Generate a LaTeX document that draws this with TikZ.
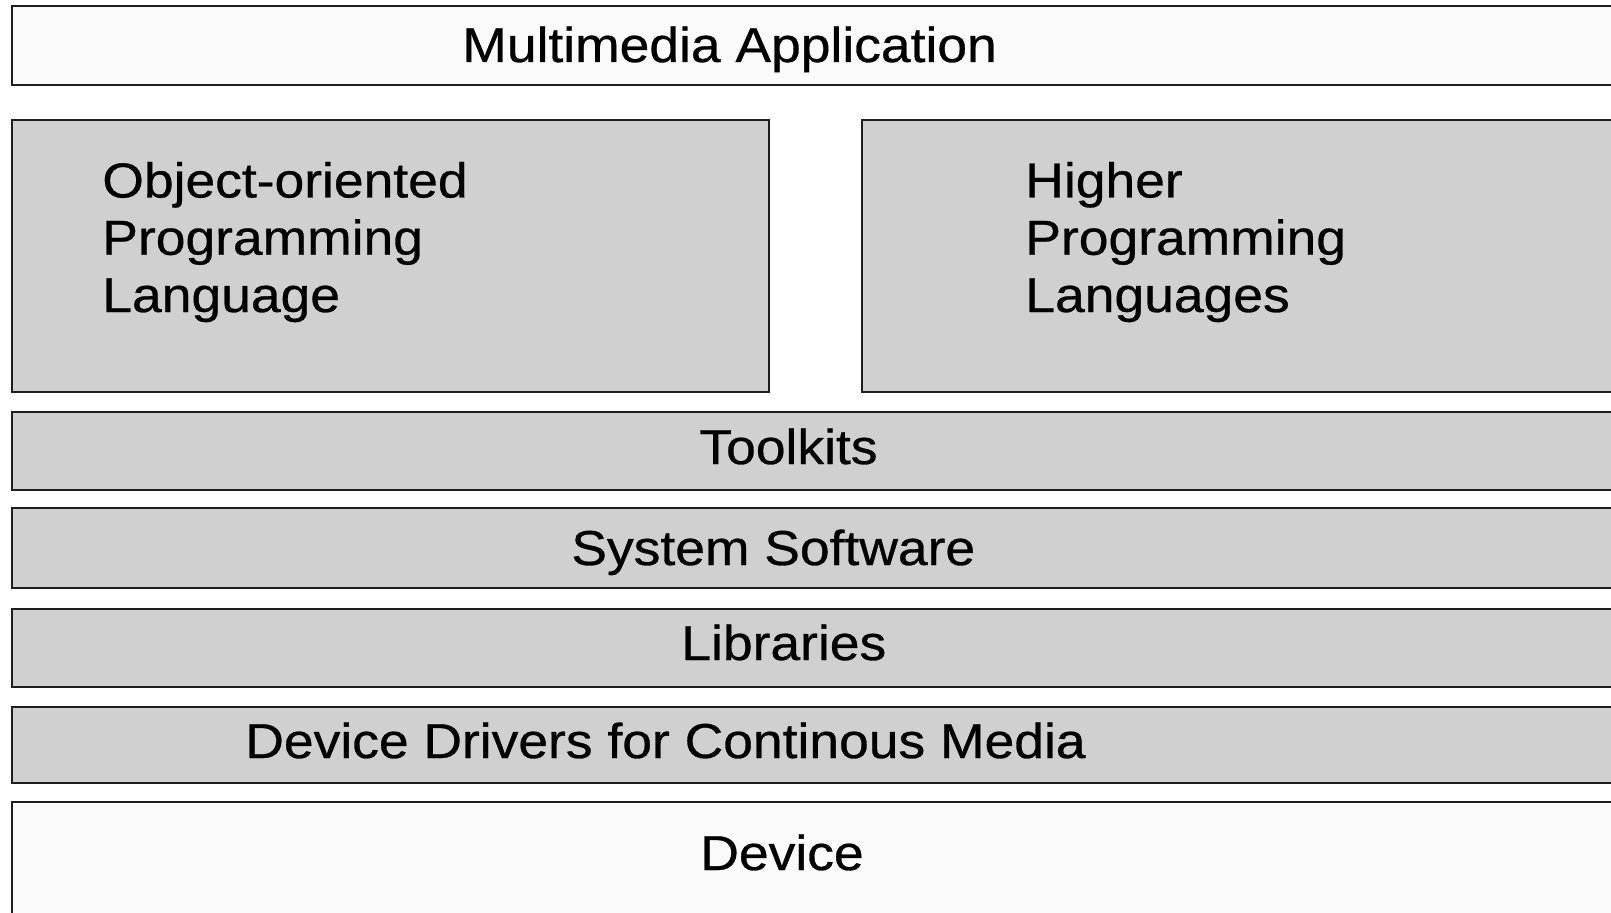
\documentclass[tikz,border=0pt]{standalone}
\usepackage{fontspec}
\setmainfont{Liberation Sans}[FakeStretch=1.09, FakeBold=0.6]
\usepackage{tikz}
\pgfdeclarelayer{nodelayer}
\pgfdeclarelayer{edgelayer}
\pgfsetlayers{edgelayer,nodelayer,main}
\definecolor{layergray}{HTML}{D0D0D0}
\definecolor{layerwhite}{HTML}{FAFAFA}
\definecolor{edgeblack}{HTML}{1E1E1E}
\tikzset{layer/.style={draw=edgeblack, line width=0.052cm, fill=layergray, rectangle, inner sep=0pt}}
\tikzset{outer/.style={layer, fill=layerwhite}}
\tikzset{txt/.style={inner sep=0pt, anchor=base west, align=left, text=black, font=\fontsize{27.9}{32.6}\selectfont}}

\begin{document}
\begin{tikzpicture}[x=0.02cm, y=-0.02cm]
	\useasboundingbox (0, 0) rectangle (1611, 912);
	\clip (0, 0) rectangle (1611, 912);
	\begin{pgfonlayer}{nodelayer}
		\node [style=outer, minimum width=32.56cm, minimum height=1.58cm] (0) at (826, 45.5) {};
		\node [style=layer, minimum width=15.14cm, minimum height=5.44cm] (1) at (390.5, 256) {};
		\node [style=layer, minimum width=15.56cm, minimum height=5.44cm] (2) at (1251, 256) {};
		\node [style=layer, minimum width=32.56cm, minimum height=1.56cm] (3) at (826, 451) {};
		\node [style=layer, minimum width=32.56cm, minimum height=1.60cm] (4) at (826, 548) {};
		\node [style=layer, minimum width=32.56cm, minimum height=1.56cm] (5) at (826, 648) {};
		\node [style=layer, minimum width=32.56cm, minimum height=1.52cm] (6) at (826, 745) {};
		\node [style=outer, minimum width=32.56cm, minimum height=2.76cm] (7) at (826, 871) {};
	\end{pgfonlayer}
	\node [style=txt] (8) at (462, 62) {Multimedia Application};
	\node [style=txt] (9) at (102, 312) {Object-oriented\\Programming\\Language};
	\node [style=txt] (10) at (1025, 312) {Higher\\Programming\\Languages};
	\node [style=txt] (11) at (699, 464) {Toolkits};
	\node [style=txt] (12) at (571, 565) {System Software};
	\node [style=txt] (13) at (681, 660) {Libraries};
	\node [style=txt] (14) at (245, 758) {Device Drivers for Continous Media};
	\node [style=txt] (15) at (700, 870) {Device};
\end{tikzpicture}
\end{document}
